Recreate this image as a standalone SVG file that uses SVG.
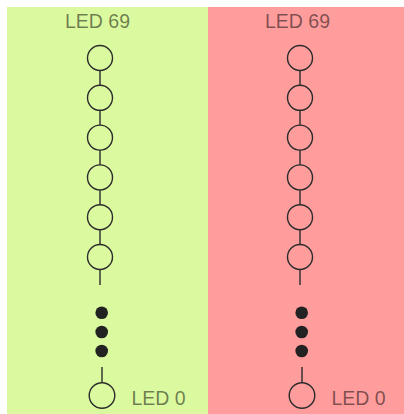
<svg xmlns="http://www.w3.org/2000/svg" width="404" height="414" viewBox="0 0 404 414">
  <style>
    .led { fill: none; stroke: #2b2b2b; stroke-width: 1.4; }
    .wire { stroke: #2b2b2b; stroke-width: 1.4; fill: none; }
    .dot { fill: #222; }
    .lbl { font-family: "Liberation Sans", Arial, sans-serif; font-size: 19.5px; fill: #000; fill-opacity: 0.5; }
  </style>
  <defs>
    <!-- one LED strip: chain of six LEDs, ellipsis dots, last LED -->
    <g id="strip-chain">
      <circle class="led" cx="0" cy="58" r="12.5"/>
      <circle class="led" cx="0" cy="97.8" r="12.5"/>
      <circle class="led" cx="0" cy="137.6" r="12.5"/>
      <circle class="led" cx="0" cy="177.4" r="12.5"/>
      <circle class="led" cx="0" cy="217.2" r="12.5"/>
      <circle class="led" cx="0" cy="257" r="12.5"/>
    </g>
  </defs>
  <rect x="0" y="0" width="404" height="414" fill="#ffffff"/>
  <rect x="7" y="7" width="201" height="407" fill="#dbfa9f"/>
  <rect x="208" y="7" width="196" height="407" fill="#ff9d9d"/>

  <g id="connectors">
    <path class="wire" d="M100 70.5V85.3M100 110.3V125.1M100 150.1V164.9M100 189.9V204.7M100 229.7V244.5M100 269.5V285M102 367V382.5"/>
    <path class="wire" d="M300 70.5V85.3M300 110.3V125.1M300 150.1V164.9M300 189.9V204.7M300 229.7V244.5M300 269.5V285M302 367V382.5"/>
  </g>

  <g id="strip-green">
    <text class="lbl" x="97.5" y="28" text-anchor="middle">LED 69</text>
    <use href="#strip-chain" x="100"/>
    <circle class="dot" cx="101.7" cy="312.7" r="6.3"/>
    <circle class="dot" cx="101.7" cy="332" r="6.3"/>
    <circle class="dot" cx="101.7" cy="351" r="6.3"/>
    <circle class="led" cx="102" cy="395.5" r="12.8"/>
    <text class="lbl" x="131.5" y="405">LED 0</text>
  </g>

  <g id="strip-red">
    <text class="lbl" x="297.5" y="28" text-anchor="middle">LED 69</text>
    <use href="#strip-chain" x="300"/>
    <circle class="dot" cx="301.7" cy="312.7" r="6.3"/>
    <circle class="dot" cx="301.7" cy="332" r="6.3"/>
    <circle class="dot" cx="301.7" cy="351" r="6.3"/>
    <circle class="led" cx="302" cy="395.5" r="12.8"/>
    <text class="lbl" x="331.5" y="405">LED 0</text>
  </g>
</svg>
